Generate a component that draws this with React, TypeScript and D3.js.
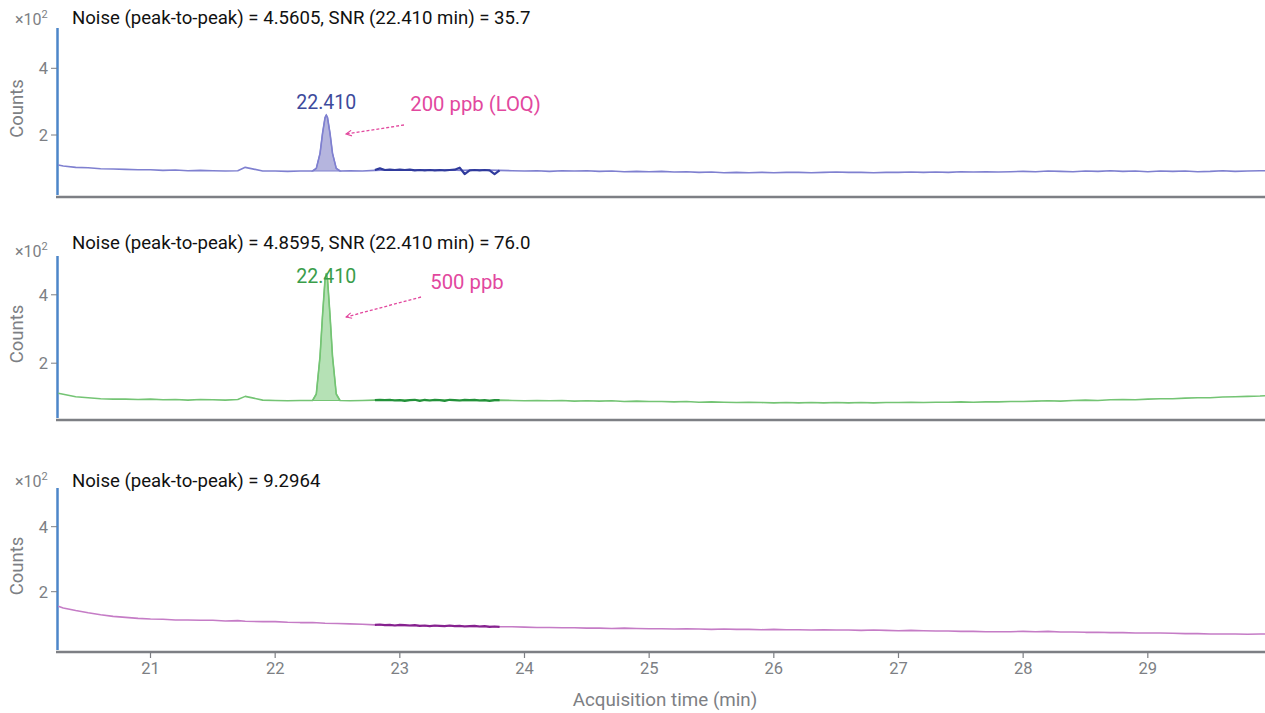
import React from 'react';
import * as d3 from 'd3';

// ---------- DATA (values in ×10² counts) ----------
const times = [
  20.26, 20.3, 20.4, 20.5, 20.6, 20.7, 20.8, 20.9,
  21.0, 21.1, 21.2, 21.3, 21.4, 21.5, 21.6, 21.7, 21.76, 21.9,
  22.0, 22.1, 22.2, 22.3, 22.4, 22.5, 22.6, 22.7, 22.8, 22.9,
  23.0, 23.1, 23.2, 23.3, 23.4, 23.5, 23.6, 23.7, 23.8, 23.9,
  24.0, 24.1, 24.2, 24.3, 24.4, 24.5, 24.6, 24.7, 24.8, 24.9,
  25.0, 25.1, 25.2, 25.3, 25.4, 25.5, 25.6, 25.7, 25.8, 25.9,
  26.0, 26.1, 26.2, 26.3, 26.4, 26.5, 26.6, 26.7, 26.8, 26.9,
  27.0, 27.1, 27.2, 27.3, 27.4, 27.5, 27.6, 27.7, 27.8, 27.9,
  28.0, 28.1, 28.2, 28.3, 28.4, 28.5, 28.6, 28.7, 28.8, 28.9,
  29.0, 29.1, 29.2, 29.3, 29.4, 29.5, 29.6, 29.7, 29.8, 29.9,
  29.94,
];

const trace200ppb = [
  1.10, 1.07, 1.03, 1.02, 0.99, 0.98, 0.97, 0.96,
  0.96, 0.94, 0.95, 0.93, 0.94, 0.93, 0.92, 0.93, 1.03, 0.92,
  0.92, 0.91, 0.92, 0.92, 0.92, 0.92, 0.93, 0.92, 0.94, 0.95,
  0.95, 0.95, 0.96, 0.94, 0.95, 0.94, 0.95, 0.95, 0.94, 0.93,
  0.92, 0.93, 0.91, 0.93, 0.92, 0.93, 0.91, 0.92, 0.90, 0.91,
  0.90, 0.91, 0.89, 0.90, 0.88, 0.89, 0.87, 0.88, 0.87, 0.88,
  0.87, 0.88, 0.88, 0.87, 0.88, 0.89, 0.88, 0.88, 0.87, 0.88,
  0.88, 0.89, 0.88, 0.89, 0.88, 0.90, 0.89, 0.90, 0.89, 0.90,
  0.91, 0.90, 0.92, 0.91, 0.90, 0.92, 0.91, 0.93, 0.91, 0.92,
  0.90, 0.92, 0.91, 0.92, 0.90, 0.91, 0.93, 0.91, 0.92, 0.93,
  0.93,
];

const trace500ppb = [
  1.12, 1.09, 1.02, 0.99, 0.96, 0.95, 0.95, 0.94,
  0.95, 0.93, 0.94, 0.92, 0.94, 0.93, 0.92, 0.94, 1.03, 0.92,
  0.91, 0.90, 0.91, 0.91, 0.91, 0.91, 0.90, 0.91, 0.92, 0.92,
  0.92, 0.92, 0.91, 0.92, 0.92, 0.91, 0.92, 0.91, 0.92, 0.91,
  0.90, 0.91, 0.90, 0.91, 0.89, 0.90, 0.89, 0.90, 0.88, 0.89,
  0.88, 0.88, 0.87, 0.88, 0.86, 0.87, 0.86, 0.85, 0.86, 0.85,
  0.84, 0.85, 0.84, 0.85, 0.84, 0.85, 0.84, 0.85, 0.84, 0.85,
  0.85, 0.86, 0.85, 0.86, 0.86, 0.87, 0.86, 0.87, 0.87, 0.88,
  0.88, 0.89, 0.90, 0.89, 0.91, 0.92, 0.91, 0.93, 0.94, 0.93,
  0.95, 0.96, 0.96, 0.98, 0.99, 0.99, 1.01, 1.02, 1.03, 1.04,
  1.05,
];

const traceBlank = [
  1.55, 1.50, 1.42, 1.35, 1.29, 1.24, 1.21, 1.18,
  1.16, 1.15, 1.13, 1.13, 1.12, 1.12, 1.10, 1.11, 1.09, 1.08,
  1.08, 1.06, 1.05, 1.05, 1.03, 1.02, 1.01, 1.00, 0.98, 0.97,
  0.96, 0.96, 0.95, 0.95, 0.94, 0.94, 0.93, 0.93, 0.92, 0.92,
  0.91, 0.90, 0.90, 0.89, 0.89, 0.88, 0.88, 0.87, 0.88, 0.87,
  0.86, 0.86, 0.85, 0.86, 0.85, 0.84, 0.85, 0.84, 0.84, 0.83,
  0.84, 0.83, 0.83, 0.82, 0.83, 0.82, 0.82, 0.81, 0.82, 0.81,
  0.80, 0.81, 0.80, 0.79, 0.79, 0.78, 0.78, 0.77, 0.77, 0.77,
  0.78, 0.77, 0.78, 0.76, 0.76, 0.75, 0.75, 0.74, 0.74, 0.73,
  0.73, 0.73, 0.72, 0.71, 0.71, 0.70, 0.70, 0.70, 0.69, 0.70,
  0.70,
];

// noise evaluation window (drawn darker)
const noiseTimes = [
  22.80, 22.84, 22.88, 22.92, 22.96, 23.00, 23.04, 23.08, 23.12, 23.16,
  23.20, 23.24, 23.28, 23.32, 23.36, 23.40, 23.44, 23.48, 23.52, 23.56,
  23.60, 23.64, 23.68, 23.72, 23.76, 23.80,
];
const noise200ppb = [
  0.95, 1.00, 0.95, 0.96, 0.95, 0.96, 0.95, 0.96, 0.94, 0.95,
  0.94, 0.95, 0.94, 0.95, 0.94, 0.95, 0.96, 1.02, 0.83, 0.94,
  0.95, 0.94, 0.95, 0.94, 0.83, 0.94,
];
const noise500ppb = [
  0.92, 0.93, 0.92, 0.93, 0.91, 0.92, 0.90, 0.92, 0.93, 0.90,
  0.93, 0.91, 0.93, 0.92, 0.90, 0.93, 0.92, 0.91, 0.93, 0.92,
  0.93, 0.91, 0.92, 0.90, 0.92, 0.92,
];
const noiseBlank = [
  0.98, 0.99, 0.97, 0.98, 0.96, 0.98, 0.97, 0.96, 0.97, 0.95,
  0.96, 0.94, 0.96, 0.95, 0.94, 0.96, 0.94, 0.95, 0.93, 0.94,
  0.95, 0.93, 0.94, 0.92, 0.93, 0.92,
];

// integrated peak at 22.410 min
const peakTimes = [22.30, 22.33, 22.36, 22.38, 22.40, 22.41, 22.42, 22.44, 22.46, 22.49, 22.52];
const peak200ppb = [0.92, 1.00, 1.45, 2.05, 2.52, 2.60, 2.52, 2.05, 1.45, 1.00, 0.92];
const peak500ppb = [0.91, 1.10, 2.20, 3.40, 4.45, 4.62, 4.45, 3.40, 2.20, 1.10, 0.91];

const xTicks = [21, 22, 23, 24, 25, 26, 27, 28, 29];
const yTicks = [2, 4];
const panelTitles = [
  'Noise (peak-to-peak) = 4.5605, SNR (22.410 min) = 35.7',
  'Noise (peak-to-peak) = 4.8595, SNR (22.410 min) = 76.0',
  'Noise (peak-to-peak) = 9.2964',
];
const peakLabel = '22.410';
const concLabels = ['200 ppb (LOQ)', '500 ppb', ''];

// ---------- LAYOUT ----------
const W = 1265;
const H = 713;
const FONT = 'Roboto, "Noto Sans", Arial, sans-serif';
const GREY = '#7d7f84';
const PINK = '#e2489e';

const panels = [
  {
    top: 28, bottom: 197, zeroY: 201.7, unit: 33.35,
    trace: trace200ppb, noise: noise200ppb, peak: peak200ppb,
    color: '#7f80d0', dark: '#2f3a9c', fill: 'rgba(120,120,195,0.55)', labelColor: '#3d4a9c',
    titleY: 24, expY: 25, labelY: 109, concDx: 84, concDy: 2, arrow: [[404, 125], [346, 134]],
  },
  {
    top: 256, bottom: 420, zeroY: 431.6, unit: 34.2,
    trace: trace500ppb, noise: noise500ppb, peak: peak500ppb,
    color: '#74c474', dark: '#23913a', fill: 'rgba(120,200,120,0.55)', labelColor: '#3a9d4a',
    titleY: 249, expY: 257, labelY: 283, concDx: 104, concDy: 6, arrow: [[421, 297], [346, 317]],
  },
  {
    top: 488, bottom: 652, zeroY: 656.7, unit: 32.5,
    trace: traceBlank, noise: noiseBlank, peak: null as number[] | null,
    color: '#c57cc6', dark: '#86228f', fill: '', labelColor: '',
    titleY: 487, expY: 487, labelY: 0, concDx: 0, concDy: 0, arrow: null as number[][] | null,
  },
];

const x = d3.scaleLinear().domain([20.25, 29.94]).range([57, 1265]);

function Panel({ p, idx }: { p: (typeof panels)[number]; idx: number }) {
  const y = d3.scaleLinear().domain([0, 1]).range([p.zeroY, p.zeroY - p.unit]);
  const line = d3.line<[number, number]>().x((d) => x(d[0])).y((d) => y(d[1]));

  let pts: [number, number][] = times.map((t, i) => [t, p.trace[i]] as [number, number]);
  let peakPts: [number, number][] = [];
  if (p.peak) {
    const pk = p.peak;
    peakPts = peakTimes.map((t, i) => [t, pk[i]] as [number, number]);
    const t0 = peakTimes[0];
    const t1 = peakTimes[peakTimes.length - 1];
    pts = pts.filter((d) => d[0] < t0 || d[0] > t1).concat(peakPts).sort((a, b) => a[0] - b[0]);
  }
  const noisePts: [number, number][] = noiseTimes.map((t, i) => [t, p.noise[i]] as [number, number]);

  let areaPath = '';
  if (peakPts.length) {
    const a = peakPts[0];
    const b = peakPts[peakPts.length - 1];
    const base = (t: number) => a[1] + ((t - a[0]) / (b[0] - a[0])) * (b[1] - a[1]);
    areaPath =
      d3
        .area<[number, number]>()
        .x((d) => x(d[0]))
        .y0((d) => y(base(d[0])))
        .y1((d) => y(d[1]))(peakPts) || '';
  }

  const apexIdx = p.peak ? d3.maxIndex(p.peak) : 0;
  const apexX = x(peakTimes[apexIdx]);
  const midY = (p.top + p.bottom) / 2 - 4;

  return (
    <g>
      {/* axes */}
      <line x1={57.5} x2={57.5} y1={p.top} y2={p.bottom - 2} stroke="#4d86c9" strokeWidth={2.5} />
      <line x1={56} x2={W} y1={p.bottom} y2={p.bottom} stroke={GREY} strokeWidth={2.5} />
      {yTicks.map((v) => (
        <g key={v}>
          <line x1={51} x2={57} y1={y(v)} y2={y(v)} stroke={GREY} strokeWidth={1} />
          <text x={48} y={y(v) + 5.8} textAnchor="end" fontSize={16.5} fill={GREY} fontFamily={FONT}>
            {v}
          </text>
        </g>
      ))}
      <text x={15} y={p.expY} fontSize={16} fill={GREY} fontFamily={FONT}>
        ×10
        <tspan fontSize={11} dy={-7}>2</tspan>
      </text>
      <text
        transform={`translate(23,${midY}) rotate(-90)`}
        textAnchor="middle"
        fontSize={18.5}
        fill={GREY}
        fontFamily={FONT}
      >
        Counts
      </text>
      <text x={72} y={p.titleY} fontSize={18.6} fill="#111" fontFamily={FONT}>
        {panelTitles[idx]}
      </text>

      {/* traces */}
      {areaPath && <path d={areaPath} fill={p.fill} stroke={p.color} strokeWidth={1.2} />}
      <path d={line(pts) || ''} fill="none" stroke={p.color} strokeWidth={1.6} strokeLinejoin="round" />
      <path d={line(noisePts) || ''} fill="none" stroke={p.dark} strokeWidth={2.2} strokeLinejoin="round" />

      {/* annotations */}
      {p.peak && (
        <text x={apexX} y={p.labelY} textAnchor="middle" fontSize={19.5} fill={p.labelColor} fontFamily={FONT}>
          {peakLabel}
        </text>
      )}
      {p.arrow && (
        <>
          <text
            x={apexX + p.concDx}
            y={p.labelY + p.concDy}
            fontSize={20.3}
            fill={PINK}
            fontFamily={FONT}
          >
            {concLabels[idx]}
          </text>
          <line
            x1={p.arrow[0][0]}
            y1={p.arrow[0][1]}
            x2={p.arrow[1][0]}
            y2={p.arrow[1][1]}
            stroke={PINK}
            strokeWidth={1.3}
            strokeDasharray="3 2"
            markerEnd="url(#arrowHead)"
          />
        </>
      )}
    </g>
  );
}

export default function App() {
  const last = panels[panels.length - 1];
  return (
    <svg
      width={W}
      height={H}
      viewBox={`0 0 ${W} ${H}`}
      style={{ position: 'absolute', left: 0, top: 0, background: '#fff', display: 'block' }}
    >
      <defs>
        <marker
          id="arrowHead"
          viewBox="0 0 10 10"
          refX={9}
          refY={5}
          markerWidth={7}
          markerHeight={7}
          markerUnits="userSpaceOnUse"
          orient="auto"
        >
          <path d="M1,1 L9,5 L1,9" fill="none" stroke={PINK} strokeWidth={1.6} />
        </marker>
      </defs>
      <rect x={0} y={0} width={W} height={H} fill="#fff" />
      {panels.map((p, i) => (
        <Panel key={i} p={p} idx={i} />
      ))}
      {/* x axis ticks on bottom panel */}
      {xTicks.map((t) => (
        <g key={t}>
          <line x1={x(t)} x2={x(t)} y1={last.bottom} y2={last.bottom + 6} stroke={GREY} strokeWidth={1.2} />
          <text x={x(t)} y={last.bottom + 22} textAnchor="middle" fontSize={16.5} fill={GREY} fontFamily={FONT}>
            {t}
          </text>
        </g>
      ))}
      <text x={665} y={706} textAnchor="middle" fontSize={18.8} fill={GREY} fontFamily={FONT}>
        Acquisition time (min)
      </text>
    </svg>
  );
}
